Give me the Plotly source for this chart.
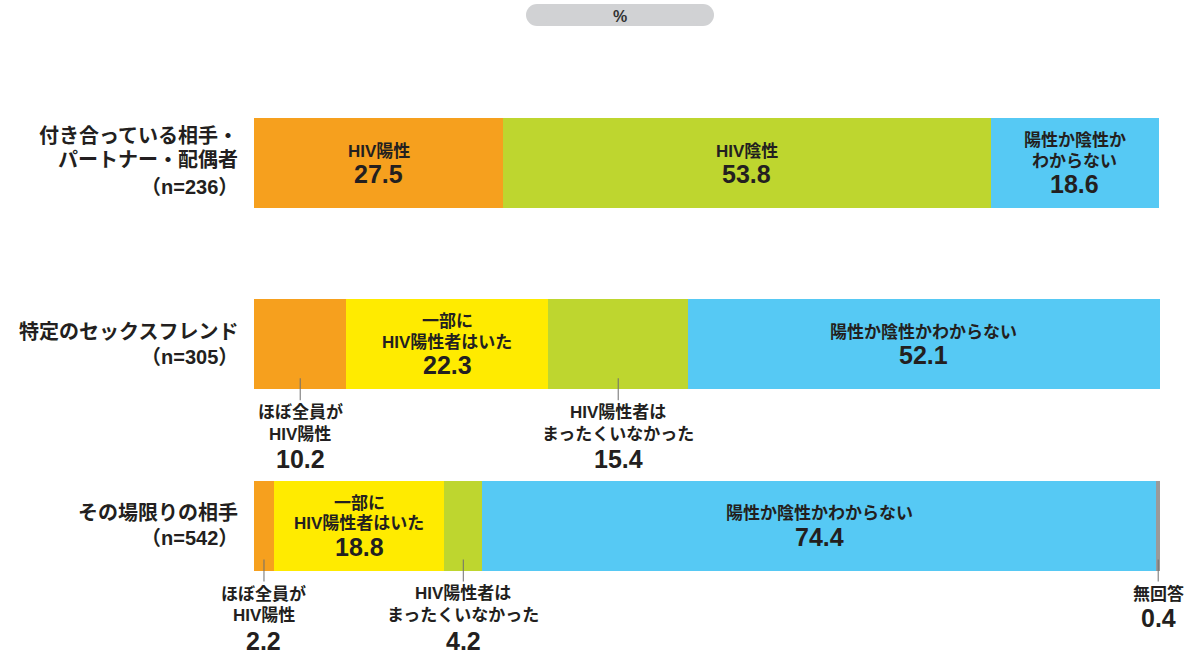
import plotly.graph_objects as go

# rows, top to bottom
row_lines = [
    ["付き合っている相手・", "パートナー・配偶者", "（n=236）"],
    ["特定のセックスフレンド", "（n=305）"],
    ["その場限りの相手", "（n=542）"],
]

# series values (%)
orange = [27.5, 10.2, 2.2]
yellow = [0.0, 22.3, 18.8]
green = [53.8, 15.4, 4.2]
blue = [18.6, 52.1, 74.4]
gray = [0.0, 0.0, 0.4]

# segment labels: (lines, inside?) per row, None = no label
orange_lbl = [(["HIV陽性"], True), (["ほぼ全員が", "HIV陽性"], False), (["ほぼ全員が", "HIV陽性"], False)]
yellow_lbl = [None, (["一部に", "HIV陽性者はいた"], True), (["一部に", "HIV陽性者はいた"], True)]
green_lbl = [(["HIV陰性"], True), (["HIV陽性者は", "まったくいなかった"], False), (["HIV陽性者は", "まったくいなかった"], False)]
blue_lbl = [(["陽性か陰性か", "わからない"], True), (["陽性か陰性かわからない"], True), (["陽性か陰性かわからない"], True)]
gray_lbl = [None, None, (["無回答"], False)]

series = [
    (orange, orange_lbl, "#F6A01E"),
    (yellow, yellow_lbl, "#FFEB00"),
    (green, green_lbl, "#BED62F"),
    (blue, blue_lbl, "#56C9F4"),
    (gray, gray_lbl, "#9A9A9A"),
]

W, H = 1186, 654
PX = 181.25          # pixels per row unit
Y0 = 163             # pixel of first row centre
FONT = "Liberation Sans, Noto Sans CJK JP"
TXT = "#231F20"
rows = list(range(len(row_lines)))


def dy(p):
    return p / PX


def px(x):
    return x / W


def py(y):
    return 1 - y / H


fig = go.Figure()
for vals, _, col in series:
    fig.add_trace(go.Bar(
        y=rows, x=vals, orientation="h", width=90 / PX,
        marker=dict(color=col, line=dict(width=0)),
        hoverinfo="skip", showlegend=False,
    ))

ann = []
shapes = []


def txt(x, y, s, size, xref="x", xanchor="center"):
    ann.append(dict(x=x, y=y, xref=xref, yref="y", text="<b>" + s + "</b>",
                    showarrow=False, xanchor=xanchor, yanchor="middle",
                    font=dict(family=FONT, size=size, color=TXT)))


for r in rows:
    start = 0.0
    for vals, lbls, col in series:
        v = vals[r]
        lab = lbls[r]
        if lab is not None and v > 0:
            cx = start + v / 2
            lines, inside = lab
            if inside:
                if len(lines) == 1:
                    offs = [-12]
                    noff = 11
                else:
                    offs = [-22.5, -2]
                    noff = 21
            else:
                offs = [68 + 22 * i for i in range(len(lines))]
                noff = 115 if len(lines) == 2 else 92
                shapes.append(dict(type="line", xref="x", yref="y", x0=cx, x1=cx,
                                   y0=r + dy(34), y1=r + dy(56),
                                   line=dict(color="#6E6E6E", width=1)))
            for ln, o in zip(lines, offs):
                txt(cx, r + dy(o), ln, 17)
            txt(cx, r + dy(noff), f"{v:.1f}", 25)
        start += v

    # category label on the left
    n = len(row_lines[r])
    if n == 3:
        offs = [-27, -3, 24]
    else:
        offs = [-12.5, 12.5]
    for ln, o in zip(row_lines[r], offs):
        txt(px(240), r + dy(o), ln, 20, xref="paper", xanchor="right")

# "%" pill at the top
pill = "#D1D2D4"
shapes += [
    dict(type="rect", xref="paper", yref="paper", x0=px(537), x1=px(703),
         y0=py(26), y1=py(4), fillcolor=pill, line=dict(width=0), layer="below"),
    dict(type="circle", xref="paper", yref="paper", x0=px(526), x1=px(548),
         y0=py(26), y1=py(4), fillcolor=pill, line=dict(width=0), layer="below"),
    dict(type="circle", xref="paper", yref="paper", x0=px(692), x1=px(714),
         y0=py(26), y1=py(4), fillcolor=pill, line=dict(width=0), layer="below"),
]
ann.append(dict(x=px(620), y=py(16), xref="paper", yref="paper", text="<b>%</b>",
                showarrow=False, xanchor="center", yanchor="middle",
                font=dict(family=FONT, size=16, color="#333333")))

fig.update_layout(
    barmode="stack",
    width=W, height=H,
    margin=dict(l=0, r=0, t=0, b=0, pad=0),
    paper_bgcolor="white", plot_bgcolor="white",
    xaxis=dict(range=[0, 100], domain=[px(254), px(1160)], visible=False, fixedrange=True),
    yaxis=dict(range=[(H - Y0) / PX, -Y0 / PX], visible=False, fixedrange=True),
    annotations=ann,
    shapes=shapes,
)

# drop the default page margin so the figure fills the window
fig.write_html("out.html", config={"displayModeBar": False},
               post_script="document.body.style.margin='0';")
